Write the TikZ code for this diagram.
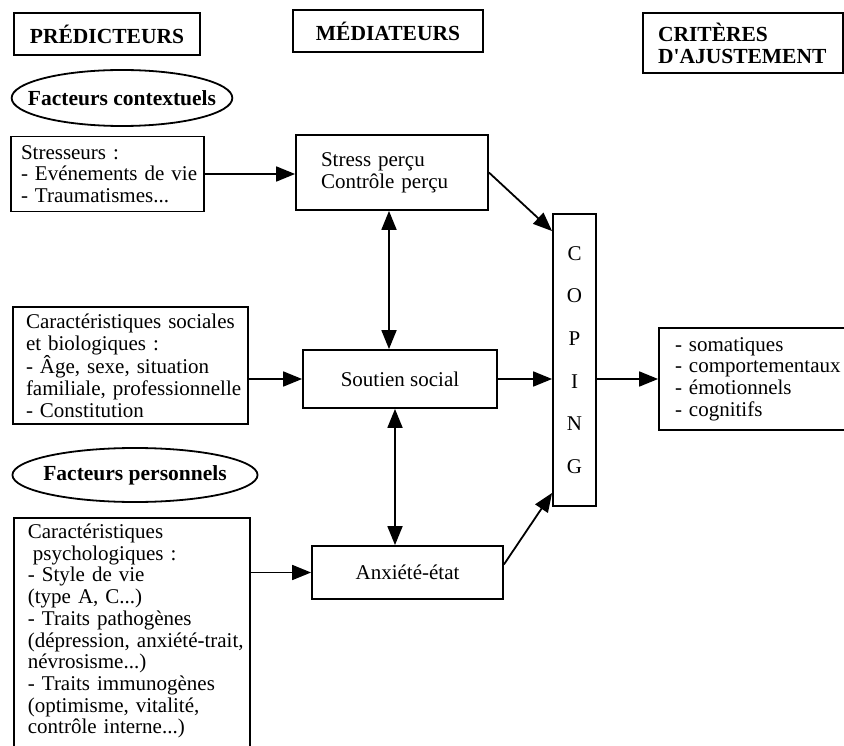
\documentclass[tikz,border=0pt]{standalone}
\usepackage{fontspec}
\setmainfont{Liberation Serif}
\usetikzlibrary{shapes.geometric, arrows.meta}
\hyphenpenalty=10000
\exhyphenpenalty=10000

\begin{document}
\begin{tikzpicture}[x=1pt, y=-1pt,
    every node/.style={font=\fontsize{21}{21.7}\selectfont, line width=1.8pt},
    box/.style={draw, rectangle, inner ysep=0pt},
    txt/.style={box, align=left},
    hd/.style={box, font=\fontsize{21.5}{22}\selectfont\bfseries},
    oval/.style={draw, ellipse, inner ysep=0pt, font=\fontsize{21.5}{22}\selectfont\bfseries},
    arr/.style={line width=1.8pt, -{Triangle[length=19pt, width=15pt]}},
    both/.style={line width=1.8pt, {Triangle[length=19pt, width=15pt]}-{Triangle[length=19pt, width=15pt]}}]
    \useasboundingbox (0,0) rectangle (844,746);
    \clip (0,0) rectangle (844,746);
    % column headers
    \node[hd, minimum width=186pt, minimum height=42pt] (pred) at (107,34) {PRÉDICTEURS};
    \node[hd, minimum width=190pt, minimum height=42pt] (med) at (388,31) {MÉDIATEURS};
    \node[hd, align=left, text width=170pt, inner xsep=15pt, minimum height=60pt] (crit) at (743,43) {CRITÈRES\\D\textquotesingle AJUSTEMENT};
    \node[oval, inner xsep=-16pt, minimum height=56pt] (ctx) at (122,98) {Facteurs contextuels};
    \node[oval, inner xsep=-5pt, minimum height=54pt] (pers) at (135,475) {Facteurs personnels};
    % predictors
    \node[txt, text width=173pt, inner xsep=10pt, minimum height=75pt] (str) at (107.5,174) {Stresseurs :\\-~Evénements~de~vie\\- Traumatismes...};
    \node[txt, text width=209pt, inner xsep=13pt, minimum height=117pt] (soc) at (130.5,365.5) {Caractéristiques~sociales\\et biologiques :\\- Âge, sexe, situation\\familiale,~professionnelle\\- Constitution};
    \node[txt, text width=208pt, inner xsep=14pt, inner ysep=6pt, anchor=north west] (psy) at (13,517) {Caractéristiques\\\hspace*{5pt}psychologiques :\\- Style de vie\\(type A, C...)\\- Traits pathogènes\\(dépression,~anxiété-trait,\\névrosisme...)\\- Traits immunogènes\\(optimisme, vitalité,\\contrôle interne...)\\~};
    % mediators
    \node[txt, text width=142pt, inner xsep=25pt, minimum height=75pt] (sp) at (392,172.5) {Stress perçu\\Contrôle perçu};
    \node[box, minimum width=194pt, minimum height=58pt] (ss) at (400,379) {Soutien social};
    \node[box, minimum width=191pt, minimum height=53pt] (ae) at (407.5,572.5) {Anxiété-état};
    \node[box, align=center, minimum width=43pt, minimum height=292pt, font=\fontsize{21}{42.6}\selectfont] (cop) at (574.5,360) {C\\O\\P\\I\\N\\G};
    % adjustment criteria
    \node[txt, text width=168pt, inner xsep=16pt, minimum height=102pt] (res) at (759,379) {- somatiques\\-~comportementaux\\- émotionnels\\- cognitifs};
    % links
    \draw[arr] (str.east) -- (str.east -| sp.west);
    \draw[arr] (ss.west -| soc.east) -- (ss.west);
    \draw[arr] (ae.west -| psy.east) -- (ae.west);
    \draw[both] ([xshift=-3pt]sp.south) -- ([xshift=-3pt]sp.south |- ss.north);
    \draw[both] ([xshift=-5pt]ss.south) -- ([xshift=-5pt]ss.south |- ae.north);
    \draw[arr] (sp.east) -- ([yshift=-18pt]cop.north west);
    \draw[arr] (ss.east) -- (ss.east -| cop.west);
    \draw[arr] ([yshift=8pt]ae.east) -- ([yshift=14pt]cop.south west);
    \draw[arr] (res.west -| cop.east) -- (res.west);
\end{tikzpicture}
\end{document}
